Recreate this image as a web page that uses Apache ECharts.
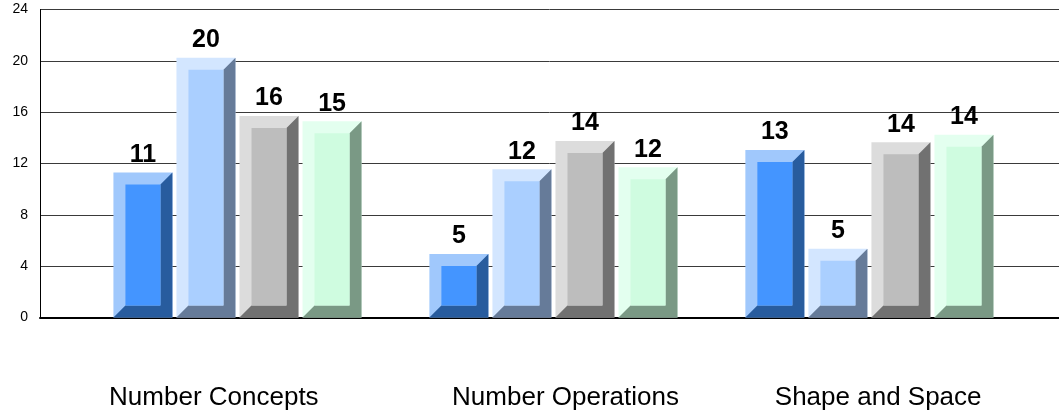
<!DOCTYPE html>
<html>
<head>
<meta charset="utf-8">
<script src="https://cdn.jsdelivr.net/npm/echarts@6/dist/echarts.min.js"></script>
<style>
  html, body { margin: 0; padding: 0; background: #fff; }
  #chart { width: 1059px; height: 416px; }
</style>
</head>
<body>
<div id="chart"></div>
<script>
// categories and values (labels are rounded)
var categories = ['Number Concepts', 'Number Operations', 'Shape and Space'];
var series1 = [11.3, 4.95, 13.05];
var series2 = [20.25, 11.55, 5.35];
var series3 = [15.7, 13.75, 13.65];
var series4 = [15.3, 11.7, 14.25];
var yTicks = [0, 4, 8, 12, 16, 20, 24];

// light (top/left), mid (face), dark (right/bottom)
var palettes = [
  ['#a0c8fc', '#4495ff', '#285c9e'],
  ['#d3e6ff', '#aacfff', '#667b99'],
  ['#dcdcdc', '#bdbdbd', '#717171'],
  ['#e3ffef', '#cffce0', '#7a9985']
];

var chart = echarts.init(document.getElementById('chart'));

function bevelBar(k) {
  return function (params, api) {
    var i = api.value(0), v = api.value(1);
    var unit = api.size([1, 0])[0];
    var top = api.coord([i, v]);
    var base = api.coord([i, 0]);
    var cx = top[0] + (k - 1.5) * 0.1995 * unit;
    var w = 59, b = 12;
    var x0 = cx - w / 2, x1 = cx + w / 2;
    var yt = top[1], yb = base[1];
    var c = palettes[k];
    return {
      type: 'group',
      children: [
        { type: 'rect', shape: { x: x0, y: yt, width: w, height: yb - yt }, style: { fill: c[0] } },
        { type: 'polygon', shape: { points: [[x1, yt], [x1, yb], [x0, yb], [x0 + b, yb - b], [x1 - b, yb - b], [x1 - b, yt + b]] }, style: { fill: c[2] } },
        { type: 'rect', shape: { x: x0 + b, y: yt + b, width: w - 2 * b, height: yb - yt - 2 * b }, style: { fill: c[1] } },
        { type: 'text', style: { text: String(Math.round(v)), x: cx, y: yt - 5, align: 'center', verticalAlign: 'bottom',
            font: 'bold 25px "Liberation Sans", Arial, sans-serif', fill: '#000' } }
      ]
    };
  };
}

function toData(arr) {
  return arr.map(function (v, i) { return [i, v]; });
}

// small per-label nudges, as in the original
var labelKeys = ['a', 'b', 'c'];

chart.setOption({
  animation: false,
  grid: { left: 40, right: 0, top: 9.5, bottom: 98.5 },
  xAxis: [
    {
      type: 'category',
      data: categories,
      axisLine: { show: true, lineStyle: { color: '#000', width: 2 } },
      axisTick: { show: false },
      axisLabel: {
        interval: 0,
        hideOverlap: false,
        color: '#000', fontSize: 26, fontFamily: 'Liberation Sans', margin: 67,
        formatter: function (val, idx) { return '{' + labelKeys[idx] + '|' + val + '}'; },
        rich: {
          a: { fontSize: 26, fontFamily: 'Liberation Sans', color: '#000', padding: [0, 0, 0, 8] },
          b: { fontSize: 26, fontFamily: 'Liberation Sans', color: '#000', padding: [0, 0, 0, 32] },
          c: { fontSize: 26, fontFamily: 'Liberation Sans', color: '#000', padding: [0, 22, 0, 0] }
        }
      },
      splitLine: { show: false }
    },
    {
      type: 'value',
      min: -0.625,
      max: 2.6,
      show: false,
      splitLine: { show: false }
    }
  ],
  yAxis: {
    type: 'value',
    min: yTicks[0],
    max: yTicks[yTicks.length - 1],
    interval: 4,
    axisLine: { show: true, onZero: false, lineStyle: { color: '#000', width: 1 } },
    axisTick: { show: false },
    axisLabel: { color: '#000', fontSize: 14, fontFamily: 'Liberation Sans', margin: 12 },
    splitLine: { show: true, lineStyle: { color: '#3a3a3a', width: 1 } }
  },
  series: [series1, series2, series3, series4].map(function (arr, k) {
    return {
      type: 'custom',
      xAxisIndex: 1,
      renderItem: bevelBar(k),
      data: toData(arr),
      encode: { x: 0, y: 1 }
    };
  })
});
</script>
</body>
</html>
